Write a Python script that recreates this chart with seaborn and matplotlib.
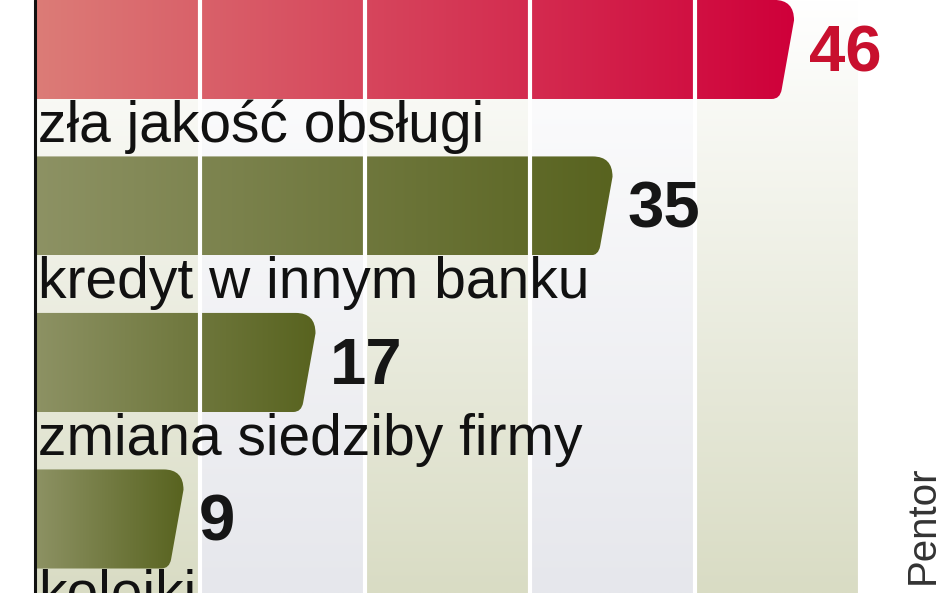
import numpy as np
import pandas as pd
import matplotlib
matplotlib.use("Agg")
import matplotlib.pyplot as plt
from matplotlib import font_manager
from matplotlib.path import Path
from matplotlib.patches import PathPatch
from matplotlib.colors import LinearSegmentedColormap
import seaborn as sns

# ---- data ----
categories = ["zła jakość obsługi", "kredyt w innym banku", "zmiana siedziby firmy", "kolejki"]
values = [46, 35, 17, 9]
value_labels = ["46", "35", "17", "9"]
grid_ticks = [0, 10, 20, 30, 40, 50]
source = "Pentor"

# ---- style ----
sns.set_theme(style="white")
names = {f.name for f in font_manager.fontManager.ttflist}
narrow = "Liberation Sans Narrow" if "Liberation Sans Narrow" in names else "Liberation Sans"
plt.rcParams["font.family"] = ["Liberation Sans", "DejaVu Sans"]

red_grad = ("#dc7c77", "#cf003a")
olive_grad = ("#8d9264", "#58631f")
col_colors = ["#d9dcc4", "#e6e7ec"]
num_colors = ["#c8102e", "#161616", "#161616", "#161616"]

df = pd.DataFrame({"category": categories, "value": values})

fig = plt.figure(figsize=(9.48, 5.93), dpi=100)
ax = fig.add_axes([0, 0, 1, 1])
bar_h = 0.633
sns.barplot(data=df, x="value", y="category", orient="h", width=bar_h,
            color="#777777", ax=ax, zorder=3)

xlim = (-2.12, 55.33)
ylim = (3.473, -0.316)

# background columns with vertical gradient (white top -> tinted bottom)
vert = np.linspace(0, 1, 256).reshape(-1, 1)
for k in range(len(grid_ticks) - 1):
    c = col_colors[k % 2]
    cmap = LinearSegmentedColormap.from_list("bg%d" % k, ["#ffffff", c])
    ax.imshow(vert, cmap=cmap, aspect="auto", origin="upper",
              extent=(grid_ticks[k], grid_ticks[k + 1], ylim[0], ylim[1]),
              zorder=0, interpolation="bilinear")

# reshape bars: rounded top-right corner, slanted right edge, gradient fill
rx, ry, slant, rx2, ry2 = 1.2, 0.13, 0.75, 0.6, 0.06
for i, p in enumerate(list(ax.patches)):
    x0, yc, w, h = p.get_x(), p.get_y(), p.get_width(), p.get_height()
    yt, yb = yc, yc + h
    if yt > yb:
        yt, yb = yb, yt
    verts = [(x0, yt), (w - rx, yt), (w, yt), (w, yt + ry),
             (w - slant, yb - ry2), (w - slant - 0.1, yb), (w - slant - rx2, yb),
             (x0, yb), (x0, yt)]
    codes = [Path.MOVETO, Path.LINETO, Path.CURVE3, Path.CURVE3,
             Path.LINETO, Path.CURVE3, Path.CURVE3, Path.LINETO, Path.CLOSEPOLY]
    shape = PathPatch(Path(verts, codes), transform=ax.transData,
                      facecolor="none", edgecolor="none")
    p.set_visible(False)
    g = red_grad if i == 0 else olive_grad
    cmap = LinearSegmentedColormap.from_list("bar%d" % i, list(g))
    im = ax.imshow(np.linspace(0, 1, 256).reshape(1, -1), cmap=cmap, aspect="auto",
                   extent=(x0, w, yb, yt), zorder=3, interpolation="bilinear")
    im.set_clip_path(shape)
    # value label
    ax.text(w + 0.9, yc + h / 2 + 0.03, value_labels[i], fontsize=47, fontweight="bold",
            family=[narrow, "DejaVu Sans"], color=num_colors[i],
            ha="left", va="center", zorder=6)
    # category label below the bar
    ax.text(0.2, i + 0.591, categories[i], fontsize=41, color="#111111",
            ha="left", va="baseline", zorder=6)

# white separators
for t in grid_ticks[1:]:
    ax.axvline(t, color="white", lw=3, zorder=4)
# axis line
ax.axvline(0, color="#111111", lw=2.2, zorder=5)

ax.text(0.973, 0.015, source, transform=ax.transAxes, rotation=90, fontsize=29,
        color="#333333", ha="center", va="bottom", zorder=6)

ax.set_xlim(*xlim)
ax.set_ylim(*ylim)
ax.axis("off")
fig.savefig("out.png", dpi=100)
